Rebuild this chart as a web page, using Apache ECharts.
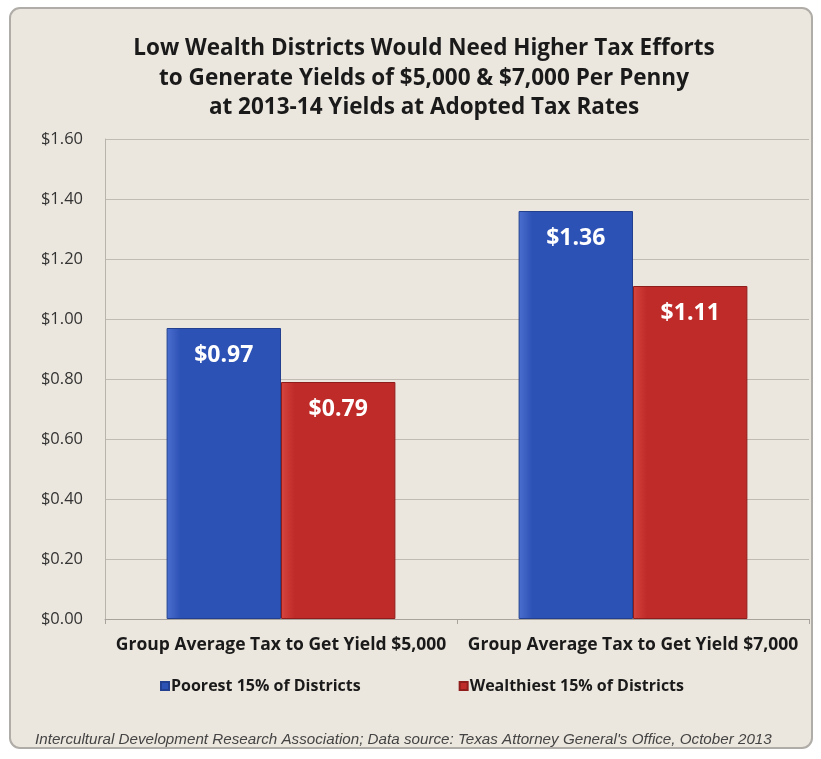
<!DOCTYPE html>
<html><head><meta charset="utf-8">
<script src="https://cdn.jsdelivr.net/npm/echarts@6/dist/echarts.min.js"></script>
<style>html,body{margin:0;padding:0;background:#fff}#c{width:821px;height:759px}</style>
</head><body><div id="c"></div>
<script>
const titleLines = ["Low Wealth Districts Would Need Higher Tax Efforts","to Generate Yields of $5,000 & $7,000 Per Penny","at 2013-14 Yields at Adopted Tax Rates"];
const categories = ["Group Average Tax to Get Yield $5,000","Group Average Tax to Get Yield $7,000"];
const seriesNames = ["Poorest 15% of Districts","Wealthiest 15% of Districts"];
const poorest = [0.97, 1.36];
const wealthiest = [0.79, 1.11];
const footer = "Intercultural Development Research Association; Data source: Texas Attorney General's Office, October 2013";

const chart = echarts.init(document.getElementById('c'));
const fmt = v => '$' + v.toFixed(2);
function grad(a,b){return new echarts.graphic.LinearGradient(0,0,1,0,[{offset:0,color:a},{offset:0.12,color:b},{offset:1,color:b}]);}
chart.setOption({
  backgroundColor:'#fff',
  graphic:[
    {type:'rect',z:-10,shape:{x:10,y:8,width:802,height:740,r:10},style:{fill:'#ece7de',stroke:'#b0aca7',lineWidth:2}},
    {type:'text',x:424,y:34,z:5,style:{text:titleLines.join('\n'),font:'bold 22.5px "Open Sans"',fill:'#1a1a1a',align:'center',textAlign:'center',lineHeight:29.5}},
    {type:'text',left:35,top:732,z:5,style:{text:footer,font:'italic 15.2px "Liberation Sans"',fill:'#444'}}
  ],
  legend:{left:155,top:673,itemWidth:8,itemHeight:8,itemGap:98,icon:'rect',
    textStyle:{fontFamily:'Open Sans',fontWeight:'bold',fontSize:16,color:'#1a1a1a',padding:[0,0,0,-3]},
    data:seriesNames},
  grid:{left:105,right:12,top:139,bottom:140},
  xAxis:{type:'category',data:categories,
    axisLine:{lineStyle:{color:'#a8a39d'}},
    axisTick:{show:true,length:5,lineStyle:{color:'#a8a39d'}},
    axisLabel:{interval:0,fontFamily:'Open Sans',fontWeight:'bold',fontSize:17.5,color:'#1a1a1a',margin:17}},
  yAxis:{type:'value',min:0,max:1.6,interval:0.2,
    axisLine:{show:true,lineStyle:{color:'#b8b3ad'}},
    axisTick:{show:false},
    splitLine:{lineStyle:{color:'#c2bbb3',width:1}},
    axisLabel:{formatter:v=>fmt(v),fontFamily:'Open Sans',fontSize:16.5,color:'#333',margin:22}},
  series:[
    {name:seriesNames[0],type:'bar',data:poorest,barGap:'0%',barCategoryGap:'35%',
     itemStyle:{color:grad('#4b6fd0','#2d52b5'),borderColor:'#22408f',borderWidth:1},
     label:{show:true,position:'insideTop',distance:16,formatter:p=>fmt(p.value),color:'#fff',fontFamily:'Open Sans',fontWeight:'bold',fontSize:23}},
    {name:seriesNames[1],type:'bar',data:wealthiest,
     itemStyle:{color:grad('#d64540','#bf2b28'),borderColor:'#8f1d1b',borderWidth:1},
     label:{show:true,position:'insideTop',distance:16,formatter:p=>fmt(p.value),color:'#fff',fontFamily:'Open Sans',fontWeight:'bold',fontSize:23}}
  ]
});
</script></body></html>
